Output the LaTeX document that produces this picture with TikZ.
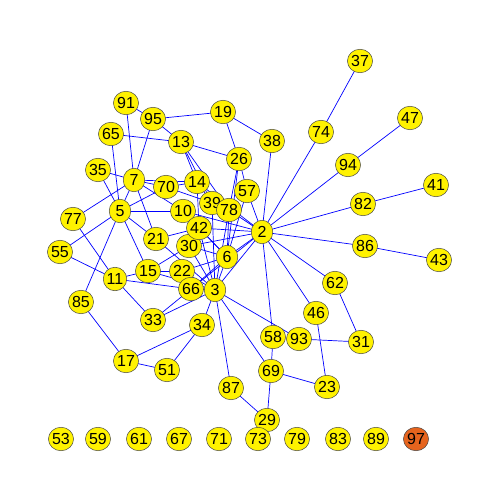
\documentclass[tikz,border=0pt]{standalone}
\usepackage{fontspec}
\setmainfont{Liberation Sans}
\usetikzlibrary{shapes.geometric}
\pgfdeclarelayer{bg}
\pgfsetlayers{bg,main}
\definecolor{vorange}{RGB}{230,100,30}
\definecolor{vborder}{RGB}{70,70,70}
\tikzset{
  v/.style={ellipse,draw=vborder,line width=0.5pt,fill=yellow,minimum width=21.5pt,minimum height=23.5pt,inner sep=0pt,font=\fontsize{16}{16}\selectfont},
  vo/.style={v,fill=vorange},
  e/.style={blue,line width=0.7pt}
}
\begin{document}
\begin{tikzpicture}[x=1pt,y=-1pt]
\useasboundingbox (0,0) rectangle (500,502);
\foreach \n/\x/\y in {
 2/262/232, 3/215/290, 5/120/211, 6/227/257, 7/134/180, 10/183/211, 11/115/279,
 13/181/142, 14/197/182, 15/148/271, 17/126/361, 19/223/112, 21/156/239, 22/182/271,
 23/327/387, 26/239/159, 29/267/420, 30/189/246, 31/361/342, 33/153/320, 34/202/325,
 35/98/170, 37/360/61, 38/272/141, 39/212/203, 41/436/185, 42/199/228, 43/439/260,
 46/316/313, 47/410/118, 51/167/370, 53/61/439, 55/60/252, 57/247/191, 58/273/337,
 59/98/439, 61/139/439, 62/335/283, 65/111/134, 66/191/289, 67/179/439, 69/271/371,
 70/166/187, 71/219/439, 73/258/439, 74/321/132, 77/73/219, 78/229/210, 79/297/439,
 82/363/204, 83/338/439, 85/81/302, 86/365/246, 87/231/388, 89/376/439, 91/126/103,
 93/299/339, 94/348/165, 95/153/119}
  \node[v] (n\n) at (\x,\y) {\n};
\node[vo] (n97) at (416,439) {97};
\begin{pgfonlayer}{bg}
\foreach \a/\b in {
 37/74, 74/2, 47/94, 94/2, 41/82, 82/2, 43/86, 86/2, 19/38, 19/26, 19/95, 38/2,
 13/26, 26/57, 26/78, 26/6, 57/2, 57/6, 2/62, 62/31, 2/46, 46/23, 2/58, 58/69,
 69/23, 69/29, 29/87, 87/3, 3/69, 3/93, 93/31, 2/3, 3/34, 34/17, 34/51, 17/51,
 17/85, 85/5, 3/33, 33/66, 33/11, 11/55, 11/77, 11/15, 11/66, 55/5, 77/7, 5/35,
 35/7, 7/91, 7/95, 91/95, 95/13, 65/13, 65/5, 7/5, 7/70, 7/14, 70/14, 5/70,
 5/10, 7/10, 7/21, 5/21, 5/15, 13/14, 13/39, 13/78, 10/2, 42/2, 30/2, 21/42,
 21/3, 14/39, 14/2, 78/2, 78/6, 78/3, 39/3, 14/42, 42/3, 10/6, 30/6, 30/3,
 42/6, 22/6, 22/3, 66/6, 66/2, 66/3, 6/2, 6/3, 15/30, 15/22, 15/3, 70/39}
  \draw[e] (n\a.center) -- (n\b.center);
\end{pgfonlayer}
\end{tikzpicture}
\end{document}
